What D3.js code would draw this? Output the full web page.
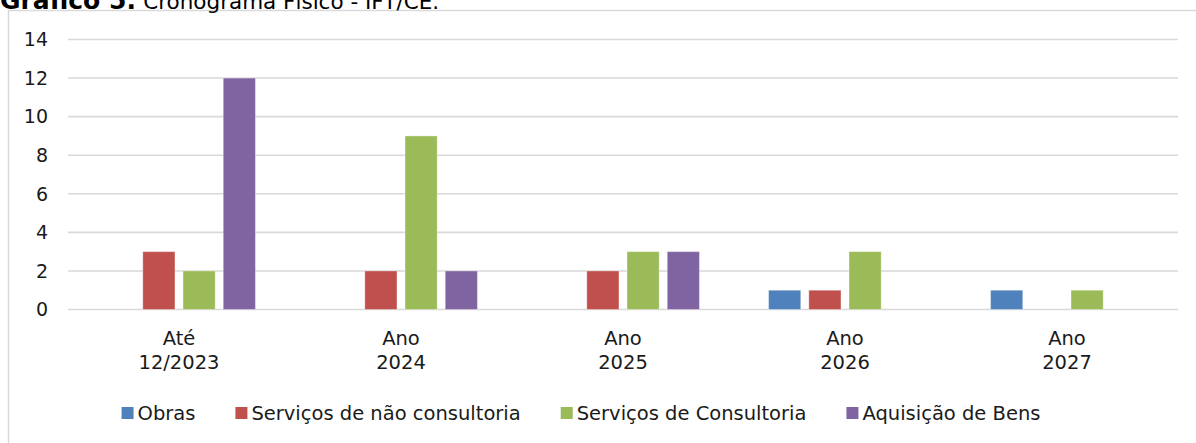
<!DOCTYPE html>
<html>
<head>
<meta charset="utf-8">
<script src="https://cdn.jsdelivr.net/npm/d3@7"></script>
<style>
  body { margin: 0; background: #fff; }
  svg { display: block; font-family: "DejaVu Sans", sans-serif; }
</style>
</head>
<body>
<svg id="chart"></svg>
<script>
// categories (two lines each) and series
const categories = [["Até", "12/2023"], ["Ano", "2024"], ["Ano", "2025"], ["Ano", "2026"], ["Ano", "2027"]];
const seriesNames = ["Obras", "Serviços de não consultoria", "Serviços de Consultoria", "Aquisição de Bens"];
const seriesColors = ["#4F81BD", "#C0504D", "#9BBB59", "#8064A2"];
const obras = [0, 0, 0, 1, 1];
const naoConsultoria = [3, 2, 2, 1, 0];
const consultoria = [2, 9, 3, 3, 1];
const aquisicao = [12, 2, 3, 0, 0];
const yTicks = [0, 2, 4, 6, 8, 10, 12, 14];

const values = [obras, naoConsultoria, consultoria, aquisicao];

const W = 1196, H = 443;
const svg = d3.select("#chart").attr("width", W).attr("height", H);

// chart frame (right and bottom edges run off the picture)
svg.append("rect")
    .attr("x", 8.5).attr("y", 10.5)
    .attr("width", 1300).attr("height", 500)
    .attr("fill", "#fff")
    .attr("stroke", "#d9d9d9")
    .attr("stroke-width", 1.5);

// title, cut at the top like the source
const title = svg.append("text")
    .attr("x", 0).attr("y", 9)
    .attr("fill", "#000");
title.append("tspan").attr("font-weight", "bold").attr("font-size", 25).text("Gráfico 5:");
title.append("tspan").attr("font-size", 21.5).text(" Cronograma Físico - IFT/CE.");

const plotLeft = 68, plotRight = 1178, plotTop = 39.5, plotBottom = 309.5;

const x0 = d3.scaleBand()
    .domain(d3.range(categories.length))
    .range([plotLeft, plotRight]);

const x1 = d3.scaleBand()
    .domain(d3.range(seriesNames.length))
    .range([0, x0.bandwidth()])
    .paddingInner(0.2)
    .paddingOuter(0.86);

const y = d3.scaleLinear().domain([0, 14]).range([plotBottom, plotTop]);

// gridlines
svg.append("g")
    .selectAll("line")
    .data(yTicks)
    .enter().append("line")
    .attr("x1", plotLeft).attr("x2", plotRight)
    .attr("y1", d => y(d)).attr("y2", d => y(d))
    .attr("stroke", "#d9d9d9")
    .attr("stroke-width", 1.6);

// y labels
svg.append("g")
    .selectAll("text")
    .data(yTicks)
    .enter().append("text")
    .attr("x", 48)
    .attr("y", d => y(d))
    .attr("dy", "0.36em")
    .attr("text-anchor", "end")
    .attr("font-size", 19)
    .attr("fill", "#1a1a1a")
    .text(d => d);

// bars
const rows = [];
values.forEach((arr, s) => arr.forEach((v, c) => { if (v > 0) rows.push({ s, c, v }); }));

svg.append("g")
    .selectAll("rect")
    .data(rows)
    .enter().append("rect")
    .attr("x", d => x0(d.c) + x1(d.s))
    .attr("width", x1.bandwidth())
    .attr("y", d => y(d.v))
    .attr("height", d => y(0) - y(d.v))
    .attr("fill", d => seriesColors[d.s])
    .attr("stroke", "rgba(255,255,255,0.35)")
    .attr("stroke-width", 1);

// category labels
const catLabels = svg.append("g")
    .selectAll("text")
    .data(categories)
    .enter().append("text")
    .attr("text-anchor", "middle")
    .attr("font-size", 19.5)
    .attr("fill", "#1a1a1a");
catLabels.each(function(d, i) {
    const cx = x0(i) + x0.bandwidth() / 2;
    d3.select(this).selectAll("tspan")
        .data(d)
        .enter().append("tspan")
        .attr("x", cx)
        .attr("y", (t, j) => 345 + j * 24)
        .text(t => t);
});

// legend
const legend = svg.append("g");
const items = legend.selectAll("g")
    .data(seriesNames)
    .enter().append("g");
items.append("rect")
    .attr("width", 12).attr("height", 12)
    .attr("y", -6)
    .attr("fill", (d, i) => seriesColors[i]);
items.append("text")
    .attr("x", 16)
    .attr("dy", "0.36em")
    .attr("font-size", 19.5)
    .attr("fill", "#1a1a1a")
    .text(d => d);

let pos = 0;
const offsets = [];
items.each(function() {
    offsets.push(pos);
    const w = 16 + d3.select(this).select("text").node().getComputedTextLength();
    pos += w + 40;
});
const total = pos - 40;
const startX = 581 - total / 2;
items.attr("transform", (d, i) => `translate(${startX + offsets[i]},413)`);
</script>
</body>
</html>
